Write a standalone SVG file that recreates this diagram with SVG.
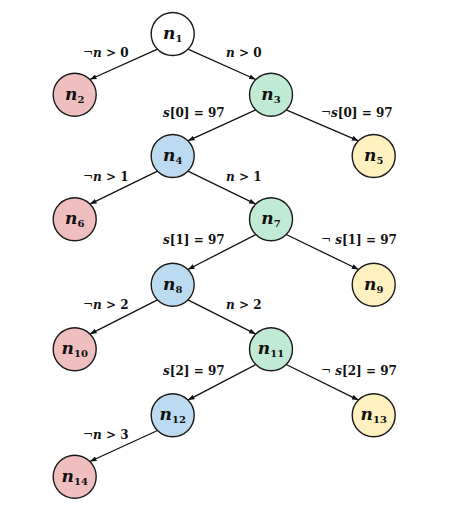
<svg xmlns="http://www.w3.org/2000/svg" width="460" height="517" viewBox="0 0 460 517">
<style>
  circle { stroke: #1a1a1a; stroke-width: 1.4; }
  .w { fill: #ffffff; }
  .r { fill: #efbfbf; }
  .g { fill: #c1ead4; }
  .b { fill: #bddbf0; }
  .y { fill: #fff0c0; }
  .nl { font-family: "DejaVu Serif", "Liberation Serif", serif; font-weight: bold; font-size: 17px; text-anchor: middle; fill: #111; }
  .v { font-style: italic; }
  .sub { font-size: 10px; font-style: normal; }
  .el { font-family: "DejaVu Serif", "Liberation Serif", serif; font-weight: bold; font-size: 12px; fill: #111; }
  .neg { font-weight: normal; }
  .edges line { stroke: #111; stroke-width: 1.3; marker-end: url(#ah); }
</style>
<defs>
  <marker id="ah" viewBox="0 0 8 6" refX="8" refY="3" markerWidth="7" markerHeight="5" orient="auto" markerUnits="userSpaceOnUse">
    <path d="M0,0 L8,3 L0,6 z" fill="#111"/>
  </marker>
</defs>
<g id="connectors" class="edges">
  <line x1="157.5" y1="49.2" x2="89.9" y2="79.5"/>
  <line x1="187.9" y1="49.2" x2="255.8" y2="79.5"/>
  <line x1="255.8" y1="109.9" x2="187.9" y2="140.8"/>
  <line x1="286.2" y1="109.9" x2="358.5" y2="140.8"/>
  <line x1="157.5" y1="171.2" x2="89.9" y2="204.1"/>
  <line x1="187.9" y1="171.2" x2="255.8" y2="204.1"/>
  <line x1="255.8" y1="234.5" x2="187.9" y2="269.5"/>
  <line x1="286.2" y1="234.5" x2="358.5" y2="269.5"/>
  <line x1="157.5" y1="299.9" x2="89.9" y2="334.1"/>
  <line x1="187.9" y1="299.9" x2="255.8" y2="334.1"/>
  <line x1="255.8" y1="364.5" x2="187.9" y2="400.1"/>
  <line x1="286.2" y1="364.5" x2="358.5" y2="400.1"/>
  <line x1="157.5" y1="430.5" x2="89.9" y2="461.5"/>
</g>
<g id="edge-labels">
  <text class="el" x="83" y="57"><tspan class="neg">¬</tspan><tspan class="v">n</tspan> &gt; 0</text>
  <text class="el" x="226" y="57"><tspan class="v">n</tspan> &gt; 0</text>
  <text class="el" x="163" y="117"><tspan class="v">s</tspan>[0] = 97</text>
  <text class="el" x="321" y="117"><tspan class="neg">¬</tspan><tspan class="v">s</tspan>[0] = 97</text>
  <text class="el" x="83" y="181"><tspan class="neg">¬</tspan><tspan class="v">n</tspan> &gt; 1</text>
  <text class="el" x="226" y="181"><tspan class="v">n</tspan> &gt; 1</text>
  <text class="el" x="163" y="244"><tspan class="v">s</tspan>[1] = 97</text>
  <text class="el" x="321" y="244"><tspan class="neg">¬</tspan> <tspan class="v">s</tspan>[1] = 97</text>
  <text class="el" x="83" y="309"><tspan class="neg">¬</tspan><tspan class="v">n</tspan> &gt; 2</text>
  <text class="el" x="226" y="309"><tspan class="v">n</tspan> &gt; 2</text>
  <text class="el" x="163" y="375"><tspan class="v">s</tspan>[2] = 97</text>
  <text class="el" x="321" y="375"><tspan class="neg">¬</tspan> <tspan class="v">s</tspan>[2] = 97</text>
  <text class="el" x="83" y="439"><tspan class="neg">¬</tspan><tspan class="v">n</tspan> &gt; 3</text>
</g>
<g id="n1"><circle class="w" cx="172.7" cy="34" r="21.5"/><text class="nl" x="172.7" y="39"><tspan class="v">n</tspan><tspan class="sub" dy="3">1</tspan></text></g>
<g id="n2"><circle class="r" cx="74.7" cy="94.7" r="21.5"/><text class="nl" x="74.7" y="99.7"><tspan class="v">n</tspan><tspan class="sub" dy="3">2</tspan></text></g>
<g id="n3"><circle class="g" cx="271" cy="94.7" r="21.5"/><text class="nl" x="271" y="99.7"><tspan class="v">n</tspan><tspan class="sub" dy="3">3</tspan></text></g>
<g id="n4"><circle class="b" cx="172.7" cy="156" r="21.5"/><text class="nl" x="172.7" y="161"><tspan class="v">n</tspan><tspan class="sub" dy="3">4</tspan></text></g>
<g id="n5"><circle class="y" cx="373.7" cy="156" r="21.5"/><text class="nl" x="373.7" y="161"><tspan class="v">n</tspan><tspan class="sub" dy="3">5</tspan></text></g>
<g id="n6"><circle class="r" cx="74.7" cy="219.3" r="21.5"/><text class="nl" x="74.7" y="224.3"><tspan class="v">n</tspan><tspan class="sub" dy="3">6</tspan></text></g>
<g id="n7"><circle class="g" cx="271" cy="219.3" r="21.5"/><text class="nl" x="271" y="224.3"><tspan class="v">n</tspan><tspan class="sub" dy="3">7</tspan></text></g>
<g id="n8"><circle class="b" cx="172.7" cy="284.7" r="21.5"/><text class="nl" x="172.7" y="289.7"><tspan class="v">n</tspan><tspan class="sub" dy="3">8</tspan></text></g>
<g id="n9"><circle class="y" cx="373.7" cy="284.7" r="21.5"/><text class="nl" x="373.7" y="289.7"><tspan class="v">n</tspan><tspan class="sub" dy="3">9</tspan></text></g>
<g id="n10"><circle class="r" cx="74.7" cy="349.3" r="21.5"/><text class="nl" x="74.7" y="354.3"><tspan class="v">n</tspan><tspan class="sub" dy="3">10</tspan></text></g>
<g id="n11"><circle class="g" cx="271" cy="349.3" r="21.5"/><text class="nl" x="271" y="354.3"><tspan class="v">n</tspan><tspan class="sub" dy="3">11</tspan></text></g>
<g id="n12"><circle class="b" cx="172.7" cy="415.3" r="21.5"/><text class="nl" x="172.7" y="420.3"><tspan class="v">n</tspan><tspan class="sub" dy="3">12</tspan></text></g>
<g id="n13"><circle class="y" cx="373.7" cy="415.3" r="21.5"/><text class="nl" x="373.7" y="420.3"><tspan class="v">n</tspan><tspan class="sub" dy="3">13</tspan></text></g>
<g id="n14"><circle class="r" cx="74.7" cy="476.7" r="21.5"/><text class="nl" x="74.7" y="481.7"><tspan class="v">n</tspan><tspan class="sub" dy="3">14</tspan></text></g>
</svg>
